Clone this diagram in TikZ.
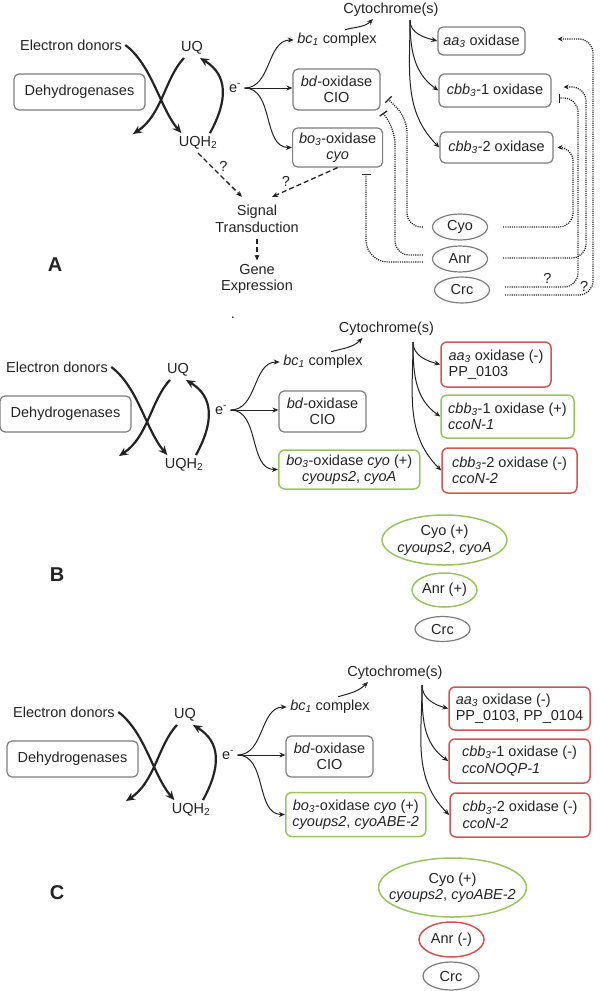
\documentclass[tikz,border=0pt]{standalone}
\usepackage{fontspec}
\setmainfont{Liberation Sans}
\usepackage{tikz}
\usetikzlibrary{arrows.meta, positioning, shapes.geometric}
\definecolor{InkGrey}{RGB}{35,35,35}
\definecolor{BoxGrey}{RGB}{125,125,125}
\definecolor{LeafGreen}{RGB}{155,195,95}
\definecolor{BrickRed}{RGB}{210,85,85}

\tikzset{
  every node/.style={font=\fontsize{14.5}{16.5}\selectfont, text=InkGrey},
  greybox/.style={draw=BoxGrey, line width=1.2pt, rounded corners=5pt, align=center, inner sep=2pt},
  greenbox/.style={draw=LeafGreen, line width=1.5pt, rounded corners=6pt, align=left, inner sep=4pt},
  redbox/.style={draw=BrickRed, line width=1.5pt, rounded corners=6pt, align=left, inner sep=4pt},
  greyell/.style={ellipse, draw=BoxGrey, line width=1.2pt, inner sep=0pt, align=center},
  greenell/.style={ellipse, draw=LeafGreen, line width=1.5pt, inner sep=0pt, align=center},
  redell/.style={ellipse, draw=BrickRed, line width=1.5pt, inner sep=0pt, align=center},
  cyclearr/.style={draw=InkGrey, line width=2.2pt, -{Stealth[length=9pt, width=8pt]}},
  thinarr/.style={draw=InkGrey, line width=1pt, -{Stealth[length=6pt, width=5pt]}},
  sigarr/.style={draw=InkGrey, line width=1.3pt, dash pattern=on 5pt off 3pt, -{Stealth[length=6pt, width=5pt]}},
  actline/.style={draw=InkGrey, line width=1.3pt, dash pattern=on 1.1pt off 1.1pt, rounded corners=14pt, -{Stealth[length=5pt, width=5pt]}},
  repline/.style={draw=InkGrey, line width=1.3pt, dash pattern=on 1.1pt off 1.1pt, rounded corners=14pt, -{Bar[width=9pt, line width=1.3pt]}},
  panel/.style={font=\fontsize{20}{22}\selectfont\bfseries},
}

% cadena comun: donadores, quinonas y reparto de electrones
\newcommand{\chaincore}[1]{%
  \node (#1don) at (71,-45) {Electron donors};
  \node[greybox, minimum width=131pt, minimum height=36pt] (#1dh) at (79.5,-92) {Dehydrogenases};
  \node (#1uq) at (192,-48) {UQ};
  \node (#1uqh) at (198,-143) {UQH\textsubscript{2}};
  \node (#1el) at (235,-88) {e\textsuperscript{-}};
  \coordinate (#1out) at (133,-134);
  \draw[cyclearr] (#1don.east) .. controls (152,-65) and (160,-108) .. ([xshift=6pt]#1uqh.north west);
  \draw[cyclearr] ([xshift=-8pt]#1uq.south) .. controls (165,-78) and (162,-115) .. (#1out);
  \draw[cyclearr] ([xshift=12pt]#1uqh.north) .. controls (228,-100) and (228,-75) .. ([xshift=8pt]#1uq.south);
  \node (#1bc) at (337,-40) {\textit{bc\textsubscript{1}} complex};
  \node[greybox, minimum width=87pt, minimum height=41pt] (#1bd) at (336.5,-89.5) {\textit{bd}-oxidase\\CIO};
  \coordinate (#1boin) at (292,-147.5);
  \draw[thinarr] (#1el.east) to[out=0, in=180] (#1bc.west);
  \draw[thinarr] (#1el.east) -- (#1el.east -| #1bd.west);
  \draw[thinarr] (#1el.east) to[out=0, in=180] (#1boin);
}

\begin{document}
\begin{tikzpicture}[x=1pt, y=1pt]
\useasboundingbox (0,0) rectangle (600,-991);

% Panel A
\chaincore{a}
\node[greybox, anchor=west, minimum width=90pt, minimum height=39pt] (abo) at (aboin) {\textit{bo\textsubscript{3}}-oxidase\\\textit{cyo}};
\node[inner sep=2pt] (acyt) at (391,-10) {Cytochrome(s)};
\draw[thinarr] ([xshift=8pt]abc.north) to[out=15, in=-135] ([xshift=-18pt]acyt.south);
\coordinate (atr) at (410,-20);
\node[greybox, minimum width=87pt, minimum height=28pt] (aaa) at (481.5,-41) {\textit{aa\textsubscript{3}} oxidase};
\node[greybox, minimum width=112pt, minimum height=33pt] (acb1) at (495,-90.5) {\textit{cbb\textsubscript{3}}-1 oxidase};
\node[greybox, minimum width=113pt, minimum height=31pt] (acb2) at (496.5,-147.5) {\textit{cbb\textsubscript{3}}-2 oxidase};
\draw[thinarr] (atr) to[out=-90, in=165] (aaa.west);
\draw[thinarr] (atr) to[out=-90, in=145] (acb1.west);
\draw[thinarr] (atr) to[out=-90, in=135] (acb2.west);

% Senal y expresion
\node[align=center] (asig) at (257,-219) {Signal\\Transduction};
\node[align=center] (agen) at (257,-279) {Gene\\Expression};
\draw[sigarr] (auqh.south) -- node[above right, pos=0.45, inner sep=1pt] {?} ([xshift=-15pt, yshift=5pt]asig.north);
\draw[sigarr] (abo.south) -- node[above left, pos=0.7, inner sep=1pt] {?} ([xshift=15pt, yshift=5pt]asig.north);
\draw[sigarr, shorten <=3pt] (asig.south) -- (agen.north);
\node[panel] (alab) at (55,-265) {A};
\node (adot) at (233,-318) {.};

% Reguladores
\node[greyell, minimum width=55pt, minimum height=26pt] (acyo) at (460,-227) {Cyo};
\node[greyell, minimum width=55pt, minimum height=26pt] (aanr) at (460,-259) {Anr};
\node[greyell, minimum width=55pt, minimum height=26pt] (acrc) at (462,-290) {Crc};
\draw[repline] ([xshift=-9pt]acyo.west) -- (407,-227) -- (407,-118) -- (388,-99);
\draw[repline] ([xshift=-9pt, yshift=4pt]aanr.west) -- (395,-255) -- (395,-130) -- (383,-113);
\draw[repline, rounded corners=22pt] ([xshift=-9pt, yshift=-3pt]aanr.west) -- (366,-262) -- (366,-174);
\draw[actline] ([xshift=15pt]acyo.east) -- (573,-227) -- (573,-147) -- ([xshift=4pt]acb2.east);
\draw[repline] ([xshift=15pt, yshift=3pt]acrc.east) -- node[above, pos=0.58] {?} (578,-287) -- (578,-98) -- ([xshift=7pt, yshift=-7.5pt]acb1.east);
\draw[actline] ([xshift=15pt, yshift=1pt]aanr.east) -- (586,-258) -- (586,-87) -- ([xshift=12pt, yshift=3.5pt]acb1.east);
\draw[actline] ([xshift=15pt, yshift=-5pt]acrc.east) -- node[above, pos=0.9] {?} (593,-295) -- (593,-39) -- ([xshift=32pt, yshift=2pt]aaa.east);

% Panel B
\begin{scope}[shift={(-14,-322)}]
  \chaincore{b}
\end{scope}
\node[greenbox, align=center, anchor=west, minimum width=141pt, minimum height=39pt] (bbo) at (bboin) {\textit{bo\textsubscript{3}}-oxidase \textit{cyo} (+)\\\textit{cyoups2}, \textit{cyoA}};
\node[inner sep=2pt] (bcyt) at (386.5,-329) {Cytochrome(s)};
\draw[thinarr] ([xshift=8pt]bbc.north) to[out=15, in=-135] ([xshift=-24pt]bcyt.south);
\coordinate (btr) at (413,-342);
\node[redbox, minimum width=110pt, minimum height=45pt] (baa) at (496,-364.5) {\textit{aa\textsubscript{3}} oxidase (-)\\PP\_0103};
\node[greenbox, minimum width=133pt, minimum height=43pt] (bcb1) at (507.5,-416.5) {\textit{cbb\textsubscript{3}}-1 oxidase (+)\\\textit{ccoN-1}};
\node[redbox, minimum width=135pt, minimum height=45pt] (bcb2) at (509.5,-470.5) {\textit{cbb\textsubscript{3}}-2 oxidase (-)\\\textit{ccoN-2}};
\draw[thinarr] (btr) to[out=-90, in=165] (baa.west);
\draw[thinarr] (btr) to[out=-90, in=145] (bcb1.west);
\draw[thinarr] (btr) to[out=-90, in=135] (bcb2.west);
\node[greenell, inner xsep=-3pt, minimum height=50pt] (bcyo) at (444.5,-540) {Cyo (+)\\\textit{cyoups2}, \textit{cyoA}};
\node[greenell, minimum width=65pt, minimum height=34pt] (banr) at (444.5,-590) {Anr (+)};
\node[greyell, minimum width=55pt, minimum height=25pt] (bcrc) at (442.5,-629) {Crc};
\node[panel] (blab) at (57,-575) {B};

% Panel C
\begin{scope}[shift={(-7,-667)}]
  \chaincore{c}
\end{scope}
\node[greenbox, align=center, anchor=west, minimum width=140pt, minimum height=44pt] (cbo) at (cboin) {\textit{bo\textsubscript{3}}-oxidase \textit{cyo} (+)\\\textit{cyoups2}, \textit{cyoABE-2}};
\node[inner sep=2pt] (ccyt) at (395,-673) {Cytochrome(s)};
\draw[thinarr] ([xshift=8pt]cbc.north) to[out=15, in=-135] ([xshift=-27pt]ccyt.south);
\coordinate (ctr) at (422,-685);
\node[redbox, minimum width=141pt, minimum height=43pt] (caa) at (519.5,-708.5) {\textit{aa\textsubscript{3}} oxidase (-)\\PP\_0103, PP\_0104};
\node[redbox, minimum width=141pt, minimum height=44pt] (ccb1) at (519.5,-761) {\textit{cbb\textsubscript{3}}-1 oxidase (-)\\\textit{ccoNOQP-1}};
\node[redbox, minimum width=140pt, minimum height=44pt] (ccb2) at (520,-815) {\textit{cbb\textsubscript{3}}-2 oxidase (-)\\\textit{ccoN-2}};
\draw[thinarr] (ctr) to[out=-90, in=165] (caa.west);
\draw[thinarr] (ctr) to[out=-90, in=145] (ccb1.west);
\draw[thinarr] (ctr) to[out=-90, in=135] (ccb2.west);
\node[greenell, inner xsep=-11pt, minimum height=59pt] (ccyo) at (452.5,-887.5) {Cyo (+)\\\textit{cyoups2}, \textit{cyoABE-2}};
\node[redell, minimum width=65pt, minimum height=35pt] (canr) at (451.5,-939.5) {Anr (-)};
\node[greyell, minimum width=56pt, minimum height=28pt] (ccrc) at (451,-976) {Crc};
\node[panel] (clab) at (57,-893) {C};
\end{tikzpicture}
\end{document}
